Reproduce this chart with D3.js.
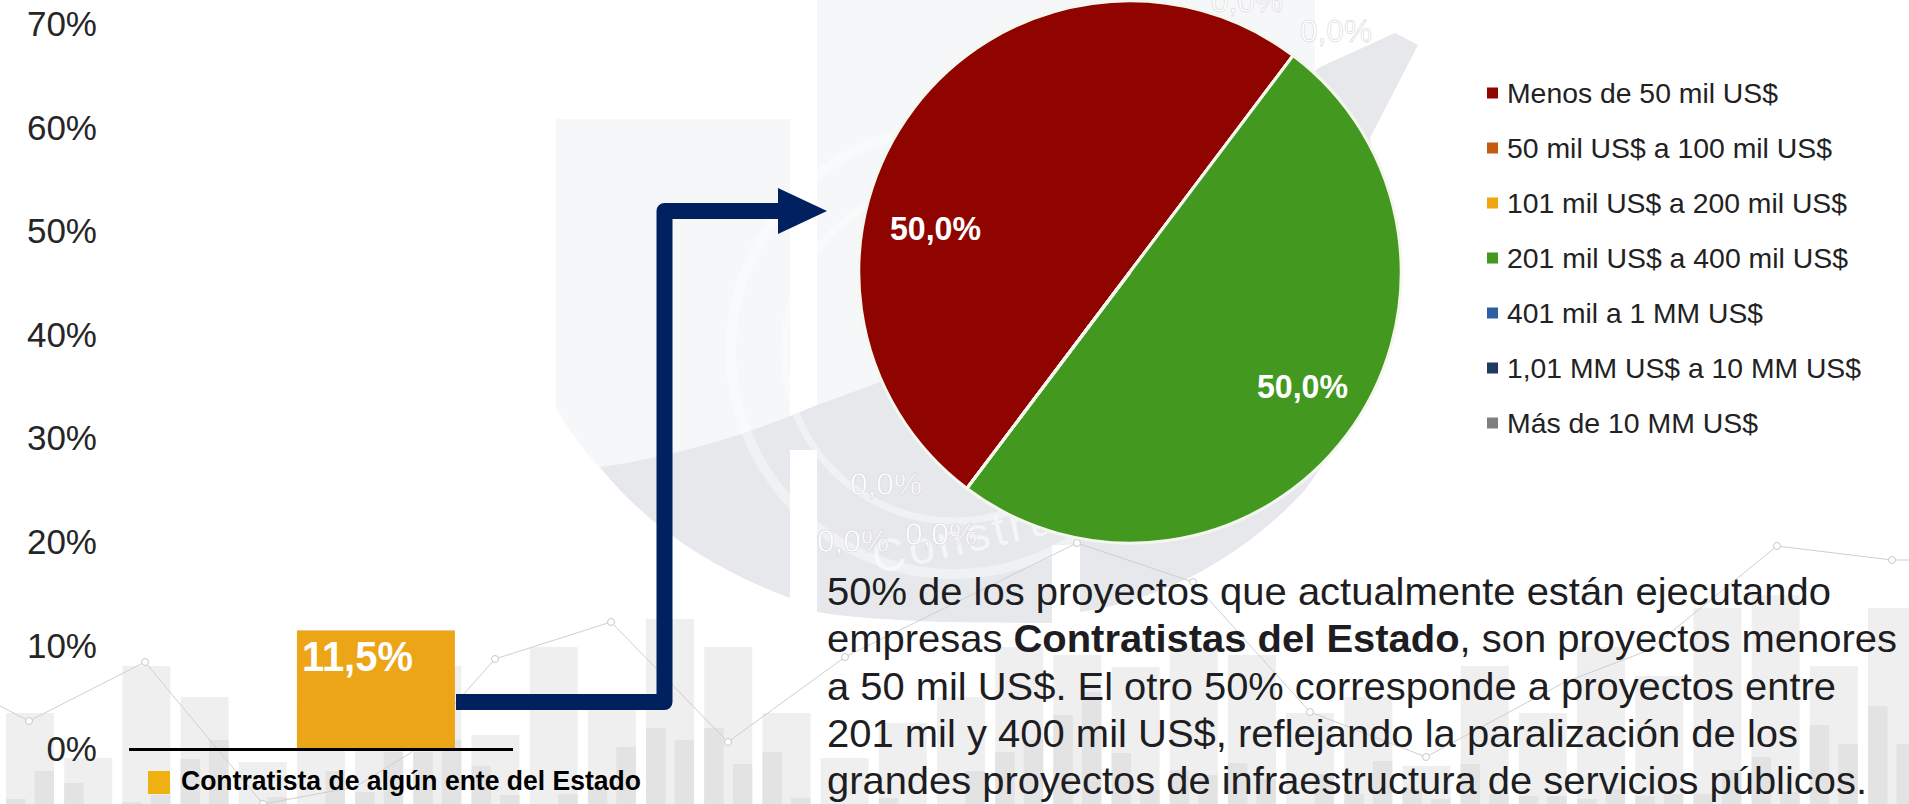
<!DOCTYPE html>
<html lang="es">

<head>
    <meta charset="UTF-8">
    <title>Contratistas del Estado</title>
    <script src="https://d3js.org/d3.v7.min.js"></script>
    <style>
        html, body { margin: 0; padding: 0; background: #fff; overflow: hidden; }
        svg { display: block; }
        text { font-family: "Liberation Sans", Arial, sans-serif; }
    </style>
</head>

<body>

    <svg width="1909" height="804"></svg>
    <script>
        // bar chart
        let barCategories = ['Contratista de algún ente del Estado'];
        let barValues = [11.5];
        let barLabels = ['11,5%'];
        let yTicks = [0, 10, 20, 30, 40, 50, 60, 70];

        // pie chart
        let pieCategories = ['Menos de 50 mil US$', '50 mil US$ a 100 mil US$', '101 mil US$ a 200 mil US$',
            '201 mil US$ a 400 mil US$', '401 mil a 1 MM US$', '1,01 MM US$ a 10 MM US$', 'Más de 10 MM US$'];
        let pieValues = [50, 0, 0, 50, 0, 0, 0];
        let pieLabels = ['50,0%', '0,0%', '0,0%', '50,0%', '0,0%', '0,0%', '0,0%'];
        let pieColors = ['#900400', '#c55a11', '#eea50f', '#43981f', '#2e5fa3', '#1f3864', '#7f7f7f'];

        let paragraph = [
            [['50% de los proyectos que actualmente están ejecutando', false]],
            [['empresas ', false], ['Contratistas del Estado', true], [', son proyectos menores', false]],
            [['a 50 mil US$. El otro 50% corresponde a proyectos entre', false]],
            [['201 mil y 400 mil US$, reflejando la paralización de los', false]],
            [['grandes proyectos de infraestructura de servicios públicos.', false]]
        ];

        // watermark behind the charts, heights
        let bgBars = [91, 46, 138, 107, 42, 104, 104, 138, 69, 157, 94, 185, 157, 91, 46, 81, 107,
            157, 149, 137, 157, 149, 91, 107, 38, 138, 91, 157, 128, 196, 209, 138, 196];
        let bgDarkLeft = [5, 21, 2, 45, 0, 0, 12, 52, 38, 0, 14, 76, 76, 52, 0, 6, 0,
            52, 89, 51, 34, 41, 0, 10, 15, 40, 8, 5, 8, 10, 47, 79, 98];
        let bgDarkRight = [33, 0, 9, 64, 7, 33, 52, 64, 9, 10, 57, 64, 40, 6, 0, 0, 33,
            64, 112, 14, 29, 25, 30, 43, 5, 10, 8, 15, 10, 34, 12, 60, 60];
        let bgLineX = [0, 29, 145, 263, 355, 412, 495, 611, 728, 845, 1077, 1193, 1310, 1426, 1563, 1649, 1777, 1892, 1909];
        let bgLineY = [98, 83, 142, 0, 17, 52, 145, 182, 62, 147, 261, 222, 92, 47, 121, 154, 258, 244, 244];
        let bgMarkers = [1, 2, 3, 6, 7, 8, 9, 10, 11, 12, 13, 16, 17];

        let svg = d3.select('svg');

        // ---- watermark ----
        let bg = svg.append('g');
        bg.append('rect').attr('x', 556).attr('y', 119).attr('width', 234).attr('height', 480).attr('fill', '#f6f7f8');
        bg.append('rect').attr('x', 817).attr('y', 0).attr('width', 498).attr('height', 420).attr('fill', '#f6f7f8');
        // white corner under the left shield
        bg.append('path').attr('fill', '#fff').attr('d', 'M556,408 C580,450 610,480 640,508 C680,545 735,578 790,598 L790,620 L540,620 L540,408 Z');
        // swoosh
        bg.append('path').attr('fill', '#e6e8eb').attr('d', 'M600,467 C665,458 730,440 790,416 L790,598 C720,572 650,530 600,467 Z');
        bg.append('path').attr('fill', '#e6e8eb').attr('d', 'M790,416 L817,405 L817,450 L790,450 Z');
        bg.append('path').attr('fill', '#e6e8eb').attr('d', 'M817,405 C920,370 1060,310 1160,230 L1318,68 L1395,33 L1418,45 L1370,138 L1400,300 L1340,440 L1305,490 C1250,550 1170,600 1080,612 L1080,545 L1052,545 L1052,623 L940,622 C900,620 850,618 817,612 Z');
        // rings of the seal
        bg.append('circle').attr('cx', 954).attr('cy', 351).attr('r', 223).attr('fill', 'none').attr('stroke', '#fff').attr('stroke-opacity', 0.4).attr('stroke-width', 10);
        bg.append('circle').attr('cx', 954).attr('cy', 351).attr('r', 170).attr('fill', 'none').attr('stroke', '#fff').attr('stroke-opacity', 0.4).attr('stroke-width', 7);
        bg.append('text').attr('transform', 'translate(876,574) rotate(-13)').attr('font-size', 46).attr('letter-spacing', 4)
            .attr('fill', '#fff').attr('fill-opacity', 0.6).text('Constru');

        let bgX = d3.scaleBand().domain(d3.range(bgBars.length)).range([6, 1916]).paddingInner(0.175);
        let bgSub = d3.scaleBand().domain(['l', 'r']).range([0, bgX.bandwidth()]).paddingInner(0.316);
        let bgY = d3.scaleLinear().domain([0, 209]).range([804, 595]);

        bg.selectAll('rect.light').data(bgBars).join('rect').attr('class', 'light')
            .attr('x', (d, i) => bgX(i)).attr('width', bgX.bandwidth())
            .attr('y', d => bgY(d)).attr('height', d => 804 - bgY(d)).attr('fill', '#efefef');
        bg.selectAll('rect.darkl').data(bgDarkLeft).join('rect').attr('class', 'darkl')
            .attr('x', (d, i) => bgX(i) + bgSub('l')).attr('width', bgSub.bandwidth())
            .attr('y', d => bgY(d)).attr('height', d => 804 - bgY(d)).attr('fill', '#e3e3e3');
        bg.selectAll('rect.darkr').data(bgDarkRight).join('rect').attr('class', 'darkr')
            .attr('x', (d, i) => bgX(i) + bgSub('r')).attr('width', bgSub.bandwidth())
            .attr('y', d => bgY(d)).attr('height', d => 804 - bgY(d)).attr('fill', '#e3e3e3');

        let lineGen = d3.line().x((d, i) => bgLineX[i]).y(d => bgY(d));
        bg.append('path').attr('d', lineGen(bgLineY)).attr('fill', 'none').attr('stroke', '#cfcfcf').attr('stroke-width', 1);
        bg.selectAll('circle.mark').data(bgMarkers).join('circle').attr('class', 'mark')
            .attr('cx', d => bgLineX[d]).attr('cy', d => bgY(bgLineY[d])).attr('r', 3.5)
            .attr('fill', '#fff').attr('stroke', '#c8c8c8').attr('stroke-width', 1);

        // ---- bar chart ----
        let yScale = d3.scaleLinear().domain([0, 70]).range([749.5, 24.5]);
        let xScale = d3.scaleBand().domain(barCategories).range([129, 513]).padding(0.417).align(0.743);

        let yAxis = d3.axisLeft(yScale).tickValues(yTicks).tickSize(0).tickPadding(0).tickFormat(d => d + '%');
        let yg = svg.append('g').attr('transform', 'translate(97,0)').call(yAxis);
        yg.select('.domain').remove();
        yg.selectAll('text').attr('font-size', 35).attr('font-family', '"Liberation Sans", Arial, sans-serif').attr('fill', '#262626');

        svg.selectAll('rect.bar').data(barValues).join('rect').attr('class', 'bar')
            .attr('x', (d, i) => xScale(barCategories[i])).attr('width', xScale.bandwidth())
            .attr('y', d => yScale(d)).attr('height', d => yScale(0) - yScale(d))
            .attr('fill', '#eca516');

        svg.append('line').attr('x1', 129).attr('x2', 513).attr('y1', yScale(0)).attr('y2', yScale(0))
            .attr('stroke', '#000').attr('stroke-width', 3);

        svg.selectAll('text.barlabel').data(barValues).join('text').attr('class', 'barlabel')
            .attr('x', (d, i) => xScale(barCategories[i]) + 5).attr('y', d => yScale(d) + 40.5)
            .attr('font-size', 43).attr('font-weight', 'bold').attr('fill', '#fff')
            .attr('textLength', 111).attr('lengthAdjust', 'spacingAndGlyphs')
            .text((d, i) => barLabels[i]);

        svg.append('rect').attr('x', 148).attr('y', 771).attr('width', 22).attr('height', 23).attr('fill', '#efb112');
        svg.append('text').attr('x', 181).attr('y', 790).attr('font-size', 27.5).attr('font-weight', 'bold').attr('fill', '#000')
            .attr('textLength', 460).attr('lengthAdjust', 'spacingAndGlyphs').text(barCategories[0]);

        // ---- arrow ----
        svg.append('path').attr('d', 'M456,702 H664.5 V211 H780').attr('fill', 'none')
            .attr('stroke', '#002060').attr('stroke-width', 16).attr('stroke-linejoin', 'round');
        svg.append('path').attr('d', 'M778,188 L827,211 L778,234 Z').attr('fill', '#002060');

        // ---- pie ----
        let pie = d3.pie().sort(null).startAngle(217 * Math.PI / 180).endAngle((217 + 360) * Math.PI / 180);
        let arc = d3.arc().innerRadius(0).outerRadius(271);
        let pieG = svg.append('g').attr('transform', 'translate(1130,272)');
        pieG.selectAll('path').data(pie(pieValues)).join('path')
            .attr('d', arc)
            .attr('fill', (d, i) => pieColors[i])
            .attr('stroke', '#f4f7ee').attr('stroke-width', 3);

        // label spots in the picture, by category
        let labelSpots = [[890, 240], [1211, 12], [1300, 42], [1257, 398], [850, 495], [817, 552], [905, 545]];
        svg.selectAll('text.pielabel').data(pieLabels).join('text').attr('class', 'pielabel')
            .attr('x', (d, i) => labelSpots[i][0]).attr('y', (d, i) => labelSpots[i][1])
            .attr('font-size', (d, i) => pieValues[i] > 0 ? 34 : 31)
            .attr('font-weight', (d, i) => pieValues[i] > 0 ? 'bold' : 'normal')
            .attr('fill', '#fff')
            .attr('stroke', (d, i) => pieValues[i] > 0 ? 'none' : '#d2d3d6')
            .attr('stroke-width', 0.5)
            .attr('textLength', (d, i) => pieValues[i] > 0 ? 91 : 72)
            .attr('lengthAdjust', 'spacingAndGlyphs')
            .text(d => d);

        // ---- pie legend ----
        let legendWidths = [271, 325, 340, 341, 256, 354, 251];
        let legendY = d3.scalePoint().domain(pieCategories).range([93, 423]);
        let legend = svg.selectAll('g.legend').data(pieCategories).join('g').attr('class', 'legend')
            .attr('transform', d => `translate(1487,${legendY(d)})`);
        legend.append('rect').attr('y', -5.5).attr('width', 11).attr('height', 11).attr('fill', (d, i) => pieColors[i]);
        legend.append('text').attr('x', 20).attr('y', 9.5).attr('font-size', 27.5).attr('fill', '#222')
            .attr('textLength', (d, i) => legendWidths[i]).attr('lengthAdjust', 'spacingAndGlyphs').text(d => d);

        // ---- paragraph ----
        let lineWidths = [1004, 1070, 1009, 971, 1040];
        let para = svg.selectAll('text.para').data(paragraph).join('text').attr('class', 'para')
            .attr('x', 827).attr('y', (d, i) => 605 + i * 47.25)
            .attr('font-size', 39.5).attr('fill', '#1d1d22')
            .attr('textLength', (d, i) => lineWidths[i]).attr('lengthAdjust', 'spacingAndGlyphs');
        para.selectAll('tspan').data(d => d).join('tspan')
            .attr('font-weight', d => d[1] ? 'bold' : 'normal')
            .text(d => d[0]);
    </script>

</body>

</html>
